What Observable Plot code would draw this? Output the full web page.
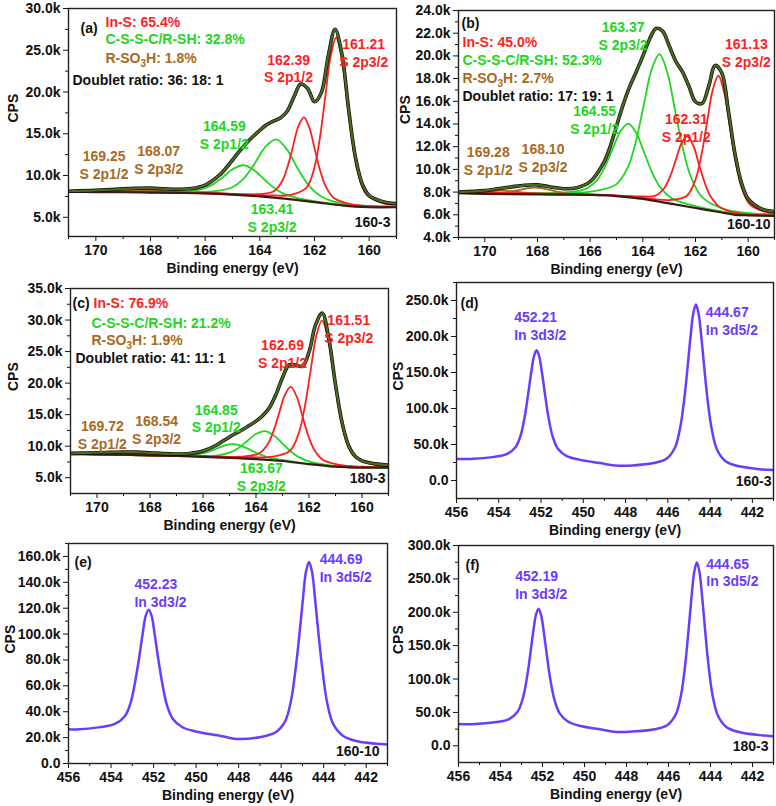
<!DOCTYPE html>
<html><head><meta charset="utf-8">
<script src="https://cdn.jsdelivr.net/npm/d3@7"></script>
<script src="https://cdn.jsdelivr.net/npm/@observablehq/plot@0.6"></script>
<style>
body{margin:0;background:#fff;}
#fig{position:relative;width:776px;height:806px;overflow:hidden;background:#fff;}
#fig svg{position:absolute;}
</style></head><body><div id="fig"></div>
<script>
// ---------- tick values ----------
const sXMajor = [160, 162, 164, 166, 168, 170];
const sXMinor = [159, 161, 163, 165, 167, 169, 171];
const inXMajor = [442, 444, 446, 448, 450, 452, 454, 456];
const inXMinor = [441, 443, 445, 447, 449, 451, 453, 455];
const aYMajor = [5, 10, 15, 20, 25, 30];
const aYMinor = [7.5, 12.5, 17.5, 22.5, 27.5];
const bYMajor = [4, 6, 8, 10, 12, 14, 16, 18, 20, 22, 24];
const bYMinor = [5, 7, 9, 11, 13, 15, 17, 19, 21, 23];
const cYMajor = [5, 10, 15, 20, 25, 30, 35];
const cYMinor = [7.5, 12.5, 17.5, 22.5, 27.5, 32.5];
const dYMajor = [0, 50, 100, 150, 200, 250];
const dYMinor = [25, 75, 125, 175, 225, 275];
const eYMajor = [0, 20, 40, 60, 80, 100, 120, 140, 160];
const eYMinor = [10, 30, 50, 70, 90, 110, 130, 150, 170];
const fYMajor = [0, 50, 100, 150, 200, 250, 300];
const fYMinor = [25, 75, 125, 175, 225, 275];

// ---------- S 2p spectra (binding energy eV, CPS in thousands) ----------
const sGrid = [171,170,169.5,169,168.5,168,167.5,167,166.5,166,165.5,165.25,165,164.75,164.5,164.25,164,163.75,163.5,163.25,163,162.75,162.5,162.25,162,161.75,161.5,161.25,161,160.75,160.5,160.25,160,159.5,159];

const aEnvelope = [8.12,8.22,8.31,8.41,8.47,8.49,8.41,8.35,8.44,8.86,9.98,10.84,11.86,12.88,13.85,14.67,15.41,16.07,16.52,16.89,17.7,19.44,20.96,20.42,18.83,19.92,24.25,27.52,24.58,17.88,12.15,8.95,7.59,6.87,6.64];
const aBackground = [[171,8.05],[170,8.02],[169,8.0],[168,7.96],[167,7.92],[166,7.86],[165,7.72],[164,7.5],[163,7.2],[162,6.82],[161,6.42],[160.5,6.27],[160,6.2],[159,6.2]];
const aInS32 = [[171,8.07],[166,7.93],[164.5,7.74],[163.5,7.61],[162.91,7.65],[162.31,8.48],[162.01,10.88],[161.81,14.36],[161.61,19.3],[161.41,24.28],[161.21,26.5],[161.01,24.12],[160.81,19.0],[160.61,13.92],[160.41,10.32],[160.11,7.76],[159.51,6.68],[159,6.5]];
const aInS12 = [[171,8.07],[166,7.92],[164.09,7.76],[163.49,8.12],[163.19,9.29],[162.99,11.01],[162.79,13.44],[162.59,15.9],[162.39,16.97],[162.19,15.74],[161.99,13.14],[161.79,10.55],[161.59,8.69],[161.29,7.31],[160.69,6.57],[160,6.33],[159,6.26]];
const aCSS32 = [[171,8.08],[166.81,8.04],[165.61,8.13],[165.01,8.6],[164.61,9.56],[164.21,11.32],[163.81,13.37],[163.41,14.32],[163.01,13.13],[162.61,10.82],[162.21,8.83],[161.81,7.62],[161.21,6.82],[160.01,6.33],[159,6.28]];
const aCSS12 = [[171,8.07],[167.99,8.03],[166.79,8.08],[166.19,8.32],[165.79,8.82],[165.39,9.71],[164.99,10.77],[164.59,11.23],[164.19,10.58],[163.79,9.38],[163.39,8.31],[162.99,7.65],[162.39,7.14],[161.19,6.57],[159,6.23]];
const aSO32 = [[171,8.06],[169.67,8.04],[169.27,8.08],[168.87,8.15],[168.47,8.23],[168.07,8.26],[167.67,8.2],[167.27,8.09],[166.87,7.99],[166.47,7.93],[165.87,7.85],[164.67,7.65]];
const aSO12 = [[171,8.07],[170.45,8.06],[170.05,8.1],[169.65,8.13],[169.25,8.15],[168.85,8.11],[168.45,8.06],[168.05,8.0],[167.65,7.97],[166.45,7.89]];

const bEnvelope = [8.0,8.13,8.3,8.45,8.6,8.64,8.45,8.3,8.39,8.92,10.53,11.95,13.81,15.69,17.29,18.61,19.98,21.45,22.42,22.18,20.89,19.53,18.61,17.33,15.96,15.81,17.32,19.16,18.49,15.11,11.36,8.77,7.4,6.53,6.29];
const bBackground = [[171,7.9],[170,7.85],[169,7.82],[168,7.8],[167,7.78],[166,7.75],[165,7.65],[164,7.4],[163,7.0],[162,6.6],[161,6.2],[160.5,6.0],[160,5.95],[159,5.9]];
const bInS32 = [[171,7.93],[166,7.8],[164.5,7.62],[162.99,7.3],[162.34,7.66],[162.01,9.04],[161.79,11.09],[161.57,14.01],[161.35,16.96],[161.13,18.25],[160.91,16.78],[160.69,13.66],[160.47,10.57],[160.25,8.42],[159.92,6.87],[159.27,6.21],[159,6.1]];
const bInS12 = [[171,7.92],[166,7.78],[164.17,7.63],[163.52,7.69],[163.19,8.34],[162.97,9.35],[162.75,10.82],[162.53,12.3],[162.31,12.92],[162.09,12.13],[161.87,10.47],[161.65,8.82],[161.43,7.63],[161.1,6.72],[160.45,6.16],[159,5.95]];
const bCSS32 = [[171,7.94],[167,7.94],[165.91,8.07],[165.02,8.66],[164.57,10.18],[164.27,12.42],[163.97,15.61],[163.67,18.77],[163.37,20.15],[163.07,18.53],[162.77,15.13],[162.47,11.74],[162.17,9.31],[161.72,7.49],[160.83,6.46],[159,6.02]];
const bCSS12 = [[171,7.94],[167.09,7.94],[166.2,8.26],[165.75,9.04],[165.45,10.17],[165.15,11.78],[164.85,13.36],[164.55,14.04],[164.25,13.21],[163.95,11.49],[163.65,9.74],[163.35,8.46],[162.9,7.46],[162.01,6.76],[161,6.29],[160,6.0],[159,5.95]];
const bSO32 = [[171,7.91],[170.64,7.9],[169.75,7.89],[169.3,7.95],[169.0,8.05],[168.7,8.19],[168.4,8.34],[168.1,8.4],[167.8,8.32],[167.5,8.17],[167.2,8.01],[166.9,7.89],[166.45,7.81],[165.56,7.72]];
const bSO12 = [[171,7.91],[170.48,7.93],[170.18,7.97],[169.88,8.03],[169.58,8.1],[169.28,8.13],[168.98,8.09],[168.68,8.0],[168.38,7.92],[168.08,7.86],[167.63,7.81],[166.74,7.78]];

const cEnvelope = [8.86,8.97,9.03,9.07,9.07,8.95,8.82,8.77,8.85,9.23,10.15,10.81,11.47,12.07,12.65,13.3,13.97,14.84,16.05,18.14,20.86,22.89,22.86,22.66,24.9,29.27,31.09,26.97,19.75,13.7,10.04,8.36,7.67,7.2,7.01];
const cBackground = [[171,8.75],[170,8.7],[169,8.65],[168,8.55],[167,8.45],[166,8.3],[165,8.15],[164,7.95],[163,7.65],[162,7.15],[161,6.75],[160.5,6.65],[160,6.6],[159,6.6]];
const cInS32 = [[171,8.8],[166,8.4],[164.5,8.28],[163.37,8.34],[162.72,9.28],[162.39,12.02],[162.17,16.0],[161.95,21.67],[161.73,27.4],[161.51,29.95],[161.29,27.23],[161.07,21.32],[160.85,15.48],[160.63,11.35],[160.3,8.4],[159.65,7.18],[159,6.95]];
const cInS12 = [[171,8.78],[166,8.4],[164.55,8.36],[163.9,8.84],[163.57,10.24],[163.35,12.28],[163.13,15.21],[162.91,18.13],[162.69,19.4],[162.47,17.92],[162.25,14.8],[162.03,11.7],[161.81,9.49],[161.48,7.86],[160.83,7.02],[160,6.74],[159,6.67]];
const cCSS32 = [[171,8.8],[166.37,8.47],[165.43,8.56],[164.95,9.06],[164.63,9.81],[164.31,10.9],[163.99,11.98],[163.67,12.4],[163.35,11.79],[163.03,10.54],[162.71,9.24],[162.39,8.27],[161.91,7.46],[160.97,6.85],[160,6.67],[159,6.65]];
const cCSS12 = [[171,8.77],[167.55,8.57],[166.61,8.56],[166.13,8.77],[165.81,9.11],[165.49,9.61],[165.17,10.13],[164.85,10.32],[164.53,10.01],[164.21,9.38],[163.89,8.76],[163.57,8.27],[163.09,7.87],[162.15,7.29],[161,6.78],[159,6.62]];
const cSO32 = [[171,8.76],[170.3,8.71],[169.82,8.73],[169.5,8.76],[169.18,8.82],[168.86,8.87],[168.54,8.9],[168.22,8.84],[167.9,8.73],[167.58,8.62],[167.26,8.54],[166.78,8.44],[165.84,8.29]];
const cSO12 = [[171,8.78],[170.68,8.78],[170.36,8.8],[170.04,8.81],[169.72,8.81],[169.4,8.78],[169.08,8.74],[168.76,8.68],[168.44,8.62],[167.96,8.56],[167.02,8.45]];

// ---------- In 3d spectra ----------
const dSpectrum = [[456,29.8],[455.21,30.2],[454.21,32.8],[453.61,37.0],[453.21,46.3],[452.96,63.2],[452.76,90.7],[452.61,119.9],[452.46,150.9],[452.33,172.9],[452.21,180.9],[452.09,172.7],[451.96,150.6],[451.81,119.4],[451.66,89.9],[451.46,62.1],[451.21,44.3],[450.81,34.2],[450.21,29.0],[449.21,24.2],[448.5,21.0],[447.67,21.0],[446.67,24.2],[446.07,30.1],[445.67,45.1],[445.42,72.6],[445.22,113.5],[445.07,155.8],[444.92,201.3],[444.79,232.9],[444.67,244.4],[444.55,232.7],[444.42,200.8],[444.27,155.0],[444.12,112.4],[443.92,70.8],[443.67,42.8],[443.27,26.9],[442.67,20.1],[441.67,15.7],[441,14.5]];
const eSpectrum = [[456,26.5],[455.64,26.3],[454.5,28.1],[453.82,30.6],[453.36,36.3],[453.08,46.9],[452.86,63.8],[452.68,81.6],[452.51,100.7],[452.37,114.1],[452.23,118.9],[452.09,113.8],[451.95,100.2],[451.78,80.9],[451.6,62.8],[451.38,45.6],[451.1,34.6],[450.64,28.0],[449.96,24.5],[448.82,21.3],[448.1,19.0],[446.96,20.5],[446.28,23.9],[445.82,32.4],[445.54,48.3],[445.32,73.4],[445.14,99.9],[444.97,128.4],[444.83,148.5],[444.69,155.7],[444.55,148.2],[444.41,128.0],[444.24,99.3],[444.06,72.6],[443.84,47.2],[443.56,30.8],[443.1,21.5],[442.42,17.2],[441.28,15.0],[441,14.6]];
const fSpectrum = [[456,32.5],[455.19,32.8],[454.19,35.5],[453.59,40.1],[453.19,50.9],[452.94,70.9],[452.74,102.3],[452.59,135.5],[452.44,171.1],[452.31,196.3],[452.19,205.4],[452.07,196.2],[451.94,170.8],[451.79,135.1],[451.64,101.7],[451.44,70.0],[451.19,48.9],[450.79,36.5],[450.19,29.6],[449.19,24.5],[448.5,20.8],[447.65,21.5],[446.65,24.8],[446.05,31.2],[445.65,47.2],[445.4,76.5],[445.2,122.8],[445.05,171.8],[444.9,224.3],[444.77,261.4],[444.65,274.7],[444.53,261.2],[444.4,223.9],[444.25,171.0],[444.1,121.9],[443.9,75.1],[443.65,45.3],[443.25,28.3],[442.65,20.7],[441.65,16.0],[441,14.4]];

// ---------- texts ----------
const aStats = ["In-S: 65.4%", "C-S-S-C/R-SH: 32.8%", "R-SO3H: 1.8%", "Doublet ratio: 36: 18: 1"];
const bStats = ["In-S: 45.0%", "C-S-S-C/R-SH: 52.3%", "R-SO3H: 2.7%", "Doublet ratio: 17: 19: 1"];
const cStats = ["In-S: 76.9%", "C-S-S-C/R-SH: 21.2%", "R-SO3H: 1.9%", "Doublet ratio: 41: 11: 1"];
const aPeaks = ["161.21\nS 2p3/2", "162.39\nS 2p1/2", "163.41\nS 2p3/2", "164.59\nS 2p1/2", "168.07\nS 2p3/2", "169.25\nS 2p1/2"];
const bPeaks = ["161.13\nS 2p3/2", "162.31\nS 2p1/2", "163.37\nS 2p3/2", "164.55\nS 2p1/2", "168.10\nS 2p3/2", "169.28\nS 2p1/2"];
const cPeaks = ["161.51\nS 2p3/2", "162.69\nS 2p1/2", "163.67\nS 2p3/2", "164.85\nS 2p1/2", "168.54\nS 2p3/2", "169.72\nS 2p1/2"];
const dPeaks = ["452.21\nIn 3d3/2", "444.67\nIn 3d5/2"];
const ePeaks = ["452.23\nIn 3d3/2", "444.69\nIn 3d5/2"];
const fPeaks = ["452.19\nIn 3d3/2", "444.65\nIn 3d5/2"];
const samples = ["160-3", "160-10", "180-3", "160-3", "160-10", "180-3"];
const xTitle = "Binding energy (eV)";
const yTitle = "CPS";

// ---------- styling ----------
const FONT = "bold 14px 'Liberation Sans', Arial, Helvetica, sans-serif";
const RED = "#ff1f1f", GREEN = "#20d620", BROWN = "#a86a22", ENV = "#4b6a20", BGC = "#3a1a14", INDIGO = "#6a3cff", INK = "#111";
const fmtK = d => d === 0 ? "0.0" : d.toFixed(1) + "k";
const pairs = (xs, ys) => xs.map((x, i) => [x, ys[i]]);

function sPanel(env, bg, comps) {
  return [
    ...comps.map(([data, color]) => Plot.line(data, {stroke: color, strokeWidth: 1.8, curve: "catmull-rom", clip: true})),
    Plot.line(bg, {stroke: BGC, strokeWidth: 2.2, curve: "catmull-rom", clip: true}),
    Plot.line(env, {stroke: "#0c0c0c", strokeWidth: 3.6, curve: "catmull-rom", clip: true}),
    Plot.line(env, {stroke: ENV, strokeWidth: 2.2, curve: "catmull-rom", clip: true})
  ];
}

function txt(s, o) { return Plot.text([s], {text: d => d, ...o}); }

function build(p) {
  const marks = [
    ...p.curves,
    Plot.axisX({ticks: p.xMajor, tickSize: 5, tickPadding: 4, tickFormat: d => String(d), label: null, stroke: INK, fill: INK}),
    Plot.axisX({ticks: p.xMinor, tickSize: 3, tickFormat: () => "", label: null, stroke: INK}),
    Plot.axisY({ticks: p.yMajor, tickSize: 5, tickPadding: 3, tickFormat: fmtK, label: null, stroke: INK, fill: INK}),
    Plot.axisY({ticks: p.yMinor, tickSize: 3, tickFormat: () => "", label: null, stroke: INK}),
    Plot.frame({stroke: "#222", strokeWidth: 1.4}),
    txt(xTitle, {frameAnchor: "bottom", dy: 36, fill: INK}),
    txt(yTitle, {frameAnchor: "left", dx: p.cpsDx, rotate: -90, fill: INK}),
    ...p.corner.map(c => txt(c[0], {frameAnchor: c[1], dx: c[2], dy: c[3], fill: c[4], textAnchor: c[5]})),
    ...p.labels.map(l => txt(l[0], {x: () => l[1], y: () => l[2], fill: l[3], textAnchor: l[4], lineHeight: 1.28}))
  ];
  const svg = Plot.plot({
    width: p.w, height: p.h,
    marginTop: p.m[0], marginRight: p.m[1], marginBottom: p.m[2], marginLeft: p.m[3],
    x: {domain: p.xDomain}, y: {domain: p.yDomain},
    style: {background: "transparent", font: FONT, overflow: "visible"},
    marks
  });
  svg.style.left = p.left + "px";
  svg.style.top = p.top + "px";
  // subscript in R-SO3H
  svg.querySelectorAll("text").forEach(t => {
    const s = t.textContent, i = s.indexOf("SO3H");
    if (i < 0 || t.querySelector("tspan")) return;
    const ns = "http://www.w3.org/2000/svg";
    const a = document.createElementNS(ns, "tspan"); a.textContent = s.slice(0, i + 2);
    const b = document.createElementNS(ns, "tspan"); b.textContent = "3"; b.setAttribute("dy", "4"); b.setAttribute("font-size", "10");
    const c = document.createElementNS(ns, "tspan"); c.textContent = s.slice(i + 3); c.setAttribute("dy", "-4");
    t.textContent = ""; t.append(a, b, c);
  });
  document.getElementById("fig").appendChild(svg);
}

build({
  left: 0, top: 0, w: 400, h: 285, m: [8, 4, 49, 68],
  xDomain: [171, 159], yDomain: [2.7, 30], xMajor: sXMajor, xMinor: sXMinor, yMajor: aYMajor, yMinor: aYMinor, cpsDx: -55,
  curves: sPanel(pairs(sGrid, aEnvelope), aBackground, [[aCSS12, GREEN], [aCSS32, GREEN], [aSO12, BROWN], [aSO32, BROWN], [aInS12, RED], [aInS32, RED]]),
  corner: [["(a)", "top-left", 12, 15, INK, "start"], [aStats[0], "top-left", 37, 9, RED, "start"], [aStats[1], "top-left", 37, 26, GREEN, "start"],
           [aStats[2], "top-left", 37, 45, BROWN, "start"], [aStats[3], "top-left", 4, 67, INK, "start"], [samples[0], "bottom-right", -6, -10, INK, "end"]],
  labels: [[aPeaks[0], 160.2, 24.8, RED, "middle"], [aPeaks[1], 162.95, 22.9, RED, "middle"], [aPeaks[2], 163.55, 4.95, GREEN, "middle"],
           [aPeaks[3], 165.3, 14.9, GREEN, "middle"], [aPeaks[4], 167.7, 11.97, BROWN, "middle"], [aPeaks[5], 169.7, 11.37, BROWN, "middle"]]
});
build({
  left: 388, top: 0, w: 388, h: 285, m: [10, 2, 48, 70],
  xDomain: [171, 159], yDomain: [4, 24], xMajor: sXMajor, xMinor: sXMinor, yMajor: bYMajor, yMinor: bYMinor, cpsDx: -53,
  curves: sPanel(pairs(sGrid, bEnvelope), bBackground, [[bCSS12, GREEN], [bCSS32, GREEN], [bSO12, BROWN], [bSO32, BROWN], [bInS12, RED], [bInS32, RED]]),
  corner: [["(b)", "top-left", 3, 8, INK, "start"], [bStats[0], "top-left", 4, 27, RED, "start"], [bStats[1], "top-left", 4, 45, GREEN, "start"],
           [bStats[2], "top-left", 4, 63, BROWN, "start"], [bStats[3], "top-left", 4, 81, INK, "start"], [samples[1], "bottom-right", -4, -9, INK, "end"]],
  labels: [[bPeaks[0], 160.07, 20.3, RED, "middle"], [bPeaks[1], 162.35, 13.7, RED, "middle"], [bPeaks[2], 164.75, 21.8, GREEN, "middle"],
           [bPeaks[3], 165.83, 14.4, GREEN, "middle"], [bPeaks[4], 167.79, 11.08, BROWN, "middle"], [bPeaks[5], 169.87, 10.8, BROWN, "middle"]]
});
build({
  left: 0, top: 268, w: 400, h: 270, m: [20, 12, 45, 70],
  xDomain: [171, 159], yDomain: [2.5, 35], xMajor: sXMajor, xMinor: sXMinor, yMajor: cYMajor, yMinor: cYMinor, cpsDx: -57,
  curves: sPanel(pairs(sGrid, cEnvelope), cBackground, [[cCSS12, GREEN], [cCSS32, GREEN], [cSO12, BROWN], [cSO32, BROWN], [cInS12, RED], [cInS32, RED]]),
  corner: [["(c)", "top-left", 2, 10, INK, "start"], [cStats[0], "top-left", 23, 10, RED, "start"], [cStats[1], "top-left", 21, 30, GREEN, "start"],
           [cStats[2], "top-left", 21, 47, BROWN, "start"], [cStats[3], "top-left", 5, 65, INK, "start"], [samples[2], "bottom-right", -3, -11, INK, "end"]],
  labels: [[cPeaks[0], 160.5, 28.73, RED, "middle"], [cPeaks[1], 163.0, 24.76, RED, "middle"], [cPeaks[2], 163.8, 5.19, GREEN, "middle"],
           [cPeaks[3], 165.5, 14.5, GREEN, "middle"], [cPeaks[4], 167.75, 12.73, BROWN, "middle"], [cPeaks[5], 169.8, 11.85, BROWN, "middle"]]
});
build({
  left: 388, top: 268, w: 388, h: 270, m: [14, 3, 40, 68],
  xDomain: [456, 441], yDomain: [-25, 275], xMajor: inXMajor, xMinor: inXMinor, yMajor: dYMajor, yMinor: dYMinor, cpsDx: -58,
  curves: [Plot.line(dSpectrum, {stroke: INDIGO, strokeWidth: 2.5, curve: "catmull-rom", clip: true})],
  corner: [["(d)", "top-left", 4, 16, INK, "start"], [samples[3], "bottom-right", -2, -13, INK, "end"]],
  labels: [[dPeaks[0], 453.27, 215, INDIGO, "start"], [dPeaks[1], 444.2, 222.5, INDIGO, "start"]]
});
build({
  left: 0, top: 528, w: 400, h: 278, m: [15, 13, 43, 68],
  xDomain: [456, 441], yDomain: [0, 170], xMajor: inXMajor, xMinor: inXMinor, yMajor: eYMajor, yMinor: eYMinor, cpsDx: -58,
  curves: [Plot.line(eSpectrum, {stroke: INDIGO, strokeWidth: 2.5, curve: "catmull-rom", clip: true})],
  corner: [["(e)", "top-left", 6, 14, INK, "start"], [samples[4], "bottom-right", -8, -8, INK, "end"]],
  labels: [[ePeaks[0], 452.9, 132, INDIGO, "start"], [ePeaks[1], 444.19, 151.4, INDIGO, "start"]]
});
build({
  left: 388, top: 528, w: 388, h: 278, m: [17, 3, 44, 70],
  xDomain: [456, 441], yDomain: [-25, 300], xMajor: inXMajor, xMinor: inXMinor, yMajor: fYMajor, yMinor: fYMinor, cpsDx: -60,
  curves: [Plot.line(fSpectrum, {stroke: INDIGO, strokeWidth: 2.5, curve: "catmull-rom", clip: true})],
  corner: [["(f)", "top-left", 7, 15, INK, "start"], [samples[5], "bottom-right", -5, -12, INK, "end"]],
  labels: [[fPeaks[0], 453.3, 241.7, INDIGO, "start"], [fPeaks[1], 444.2, 260.7, INDIGO, "start"]]
});
</script></body></html>
